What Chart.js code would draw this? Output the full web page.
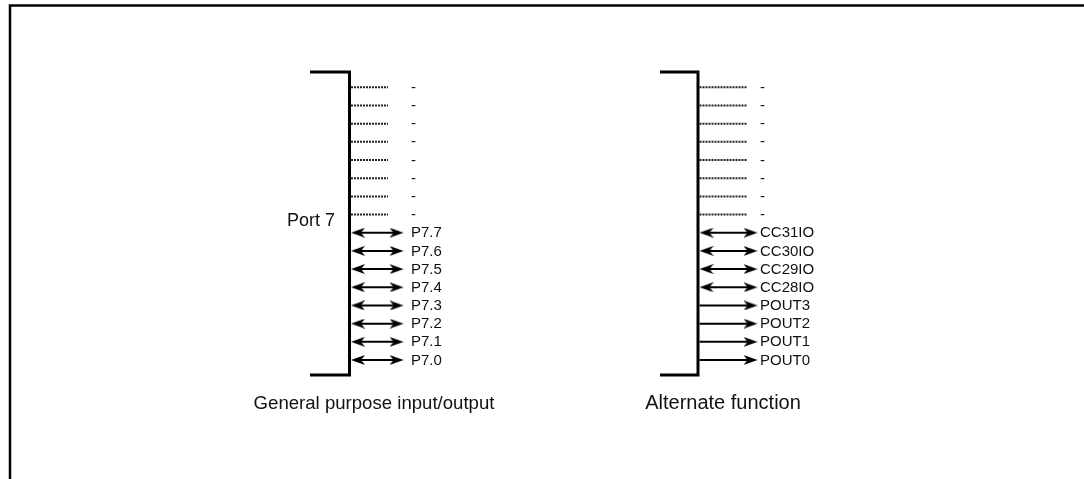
<!DOCTYPE html>
<html>
<head>
<meta charset="utf-8">
<script src="https://cdn.jsdelivr.net/npm/chart.js@4/dist/chart.umd.min.js"></script>
<style>
  html, body { margin: 0; padding: 0; background: #fff; }
  canvas { display: block; }
</style>
</head>
<body>
<canvas id="diagram" width="1084" height="479"></canvas>
<script>
// pin labels per row, top to bottom
const gpioPins = ['-', '-', '-', '-', '-', '-', '-', '-', 'P7.7', 'P7.6', 'P7.5', 'P7.4', 'P7.3', 'P7.2', 'P7.1', 'P7.0'];
const altPins = ['-', '-', '-', '-', '-', '-', '-', '-', 'CC31IO', 'CC30IO', 'CC29IO', 'CC28IO', 'POUT3', 'POUT2', 'POUT1', 'POUT0'];
// '' = not used (dotted stub), 'io' = bidirectional, 'out' = output only
const gpioDir = ['', '', '', '', '', '', '', '', 'io', 'io', 'io', 'io', 'io', 'io', 'io', 'io'];
const altDir = ['', '', '', '', '', '', '', '', 'io', 'io', 'io', 'io', 'out', 'out', 'out', 'out'];
const blockTitles = ['General purpose input/output', 'Alternate function'];
const portName = 'Port 7';

// layout (x in canvas units, y in row units)
const W = 1084, H = 479;
const rowTop = 87.3, rowGap = 18.18;
const layout = {
  bracketTop: -0.84,
  bracketBottom: 15.83,
  titleBaseline: 17.7,
  portBaseline: 7.63,
  frameTop: -4.5,
  frameLeft: 10,
  blocks: [
    { spine: 349.5, cap: 310, dotEnd: 388, arrowEnd: 403.5, label: 411, title: 374, titleSize: 18.6, pins: gpioPins, dir: gpioDir },
    { spine: 698, cap: 660, dotEnd: 747, arrowEnd: 757.5, label: 760, title: 723, titleSize: 20, pins: altPins, dir: altDir }
  ]
};
const FONT = "'Liberation Sans', Arial, Helvetica, sans-serif";

// barbed arrowhead, tip on the right
function makeHead() {
  const c = document.createElement('canvas');
  c.width = 14; c.height = 10;
  const g = c.getContext('2d');
  g.fillStyle = '#000';
  g.beginPath();
  g.moveTo(14, 5); g.lineTo(0, 0); g.lineTo(4, 5); g.lineTo(0, 10);
  g.closePath();
  g.fill();
  return c;
}
const head = makeHead();

const lineDs = (pts, width, dash) => ({
  data: pts,
  showLine: true,
  borderColor: dash ? '#222' : '#000',
  borderWidth: width,
  borderDash: dash || [],
  borderCapStyle: 'butt',
  borderJoinStyle: 'miter',
  pointRadius: 0,
  fill: false,
  tension: 0,
  order: 1
});

const datasets = [];
const heads = [], headRot = [];

// outer frame
datasets.push(lineDs([{ x: W + 10, y: layout.frameTop }, { x: layout.frameLeft, y: layout.frameTop }, { x: layout.frameLeft, y: 30 }], 2.5));

layout.blocks.forEach(b => {
  // bracket
  datasets.push(lineDs([
    { x: b.cap, y: layout.bracketTop }, { x: b.spine, y: layout.bracketTop },
    { x: b.spine, y: layout.bracketBottom }, { x: b.cap, y: layout.bracketBottom }
  ], 3));
  const x0 = b.spine + 1.5;
  b.dir.forEach((d, row) => {
    if (d === '') {
      datasets.push(lineDs([{ x: x0, y: row }, { x: b.dotEnd, y: row }], 2, [2, 1]));
      return;
    }
    const start = d === 'io' ? x0 + 5 : x0;
    datasets.push(lineDs([{ x: start, y: row }, { x: b.arrowEnd - 5, y: row }], 2));
    heads.push({ x: b.arrowEnd - 7, y: row }); headRot.push(0);
    if (d === 'io') { heads.push({ x: x0 + 7, y: row }); headRot.push(180); }
  });
});

datasets.push({
  data: heads,
  pointStyle: head,
  pointRadius: 6,
  rotation: headRot,
  showLine: false,
  order: 0
});

const textPlugin = {
  id: 'diagramText',
  afterDatasetsDraw(chart) {
    const { ctx, scales: { x, y } } = chart;
    ctx.save();
    ctx.fillStyle = '#111';
    ctx.textAlign = 'left';
    ctx.textBaseline = 'middle';
    layout.blocks.forEach(b => {
      ctx.font = `15px ${FONT}`;
      b.pins.forEach((p, row) => ctx.fillText(p, x.getPixelForValue(b.label), y.getPixelForValue(row) + 0.5));
    });
    ctx.textBaseline = 'alphabetic';
    ctx.textAlign = 'center';
    layout.blocks.forEach((b, i) => {
      ctx.font = `${b.titleSize}px ${FONT}`;
      ctx.fillText(blockTitles[i], x.getPixelForValue(b.title), y.getPixelForValue(layout.titleBaseline));
    });
    ctx.textAlign = 'right';
    ctx.font = `18px ${FONT}`;
    ctx.fillText(portName, x.getPixelForValue(335), y.getPixelForValue(layout.portBaseline));
    ctx.restore();
  }
};

new Chart(document.getElementById('diagram'), {
  type: 'scatter',
  data: { datasets },
  options: {
    responsive: false,
    animation: false,
    events: [],
    layout: { padding: 0, autoPadding: false },
    plugins: { legend: { display: false }, tooltip: { enabled: false } },
    scales: {
      x: { type: 'linear', display: false, min: 0, max: W },
      y: { type: 'linear', display: false, reverse: true, min: -rowTop / rowGap, max: (H - rowTop) / rowGap }
    }
  },
  plugins: [textPlugin]
});
</script>
</body>
</html>
